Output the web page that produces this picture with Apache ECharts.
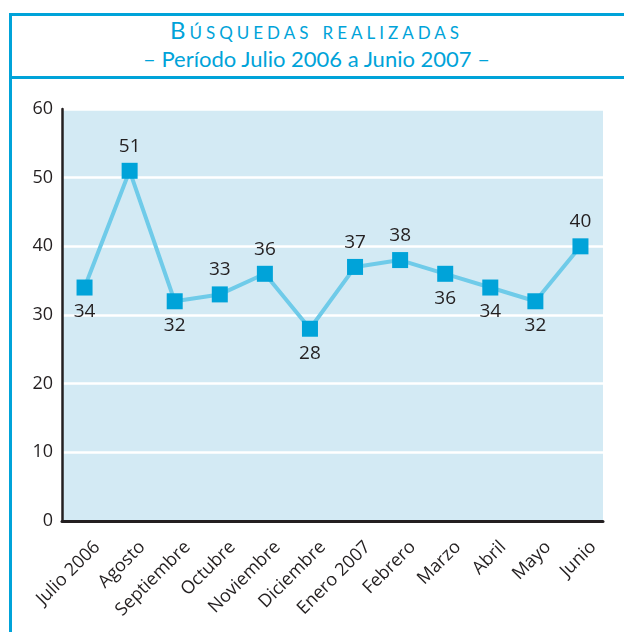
<!DOCTYPE html>
<html>
<head>
<meta charset="utf-8">
<title>Búsquedas realizadas</title>
<script src="https://cdn.jsdelivr.net/npm/echarts@6/dist/echarts.min.js"></script>
<style>
    html, body {
        margin: 0;
        padding: 0;
        width: 624px;
        height: 632px;
        overflow: hidden;
        background: #fff;
    }
    #marco {
        position: absolute;
        left: 9px;
        top: 13px;
        width: 700px;
        height: 700px;
        border-top: 3px solid #00a3d9;
        border-left: 3px solid #00a3d9;
    }
    #cabecera {
        position: absolute;
        left: 9px;
        top: 16px;
        width: 700px;
        height: 60px;
        border-bottom: 3px solid #00a3d9;
    }
    .titulo {
        position: absolute;
        left: 0;
        width: 615px;
        text-align: center;
        color: #00a3d9;
        font-family: Lato, "Open Sans", sans-serif;
        white-space: nowrap;
    }
    #t1 {
        top: 2px;
        font-size: 24px;
        line-height: 24px;
        font-variant: small-caps;
        letter-spacing: 4px;
    }
    #t2 {
        top: 32px;
        font-size: 22px;
        line-height: 22px;
    }
    #grafico {
        position: absolute;
        left: 0;
        top: 0;
        width: 624px;
        height: 632px;
    }
</style>
</head>
<body>
<div id="marco"></div>
<div id="cabecera">
    <div class="titulo" id="t1">Búsquedas realizadas</div>
    <div class="titulo" id="t2">– Período Julio 2006 a Junio 2007 –</div>
</div>
<div id="grafico"></div>
<script>
    // datos
    var meses = ['Julio 2006', 'Agosto', 'Septiembre', 'Octubre', 'Noviembre', 'Diciembre',
        'Enero 2007', 'Febrero', 'Marzo', 'Abril', 'Mayo', 'Junio'];
    var busquedas = [34, 51, 32, 33, 36, 28, 37, 38, 36, 34, 32, 40];
    var ticksY = [0, 10, 20, 30, 40, 50, 60];

    var fuente = '"Open Sans", sans-serif';
    var oscuro = '#231f20';

    // etiqueta arriba si el valor sube respecto al mes anterior, abajo si baja
    var puntos = busquedas.map(function (v, i) {
        var arriba = i > 0 && v > busquedas[i - 1];
        return {
            value: v,
            label: {position: arriba ? 'top' : 'bottom'}
        };
    });

    var chart = echarts.init(document.getElementById('grafico'));
    chart.setOption({
        animation: false,
        grid: {
            left: 62,
            right: 21,
            top: 109,
            bottom: 111,
            show: true,
            backgroundColor: '#d3eaf4',
            borderWidth: 0
        },
        xAxis: {
            type: 'category',
            data: meses,
            boundaryGap: true,
            axisLine: {lineStyle: {color: oscuro, width: 3}},
            axisTick: {show: false},
            axisLabel: {
                rotate: 45,
                interval: 0,
                margin: 36,
                padding: [0, -18, 0, 0],
                color: oscuro,
                fontSize: 18,
                fontFamily: fuente
            },
            splitLine: {show: false}
        },
        yAxis: {
            type: 'value',
            min: ticksY[0],
            max: ticksY[ticksY.length - 1],
            interval: ticksY[1] - ticksY[0],
            axisLine: {show: true, lineStyle: {color: oscuro, width: 2.5}},
            axisTick: {show: false},
            axisLabel: {
                margin: 9,
                color: oscuro,
                fontSize: 18,
                fontFamily: fuente,
                padding: [0, 0, 8, 0]
            },
            splitLine: {lineStyle: {color: '#ffffff', width: 2.5}}
        },
        series: [{
            type: 'line',
            data: puntos,
            symbol: 'rect',
            symbolSize: 16,
            itemStyle: {color: '#00a3d9'},
            lineStyle: {color: '#6fcbe9', width: 4},
            label: {
                show: true,
                distance: 7,
                color: oscuro,
                fontSize: 19,
                fontFamily: fuente
            },
            z: 3
        }]
    });
</script>
</body>
</html>
